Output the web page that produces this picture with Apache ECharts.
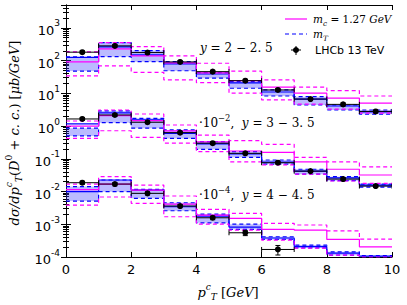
<!DOCTYPE html>
<html><head><meta charset="utf-8">
<script src="https://cdn.jsdelivr.net/npm/echarts@6/dist/echarts.min.js"></script>
<style>html,body{margin:0;padding:0;background:#fff}#c{width:407px;height:305px}</style>
</head><body><div id="c"></div>
<script>
// bin edges (p_T^c in GeV)
const xEdges = [0,1,2,3,4,5,6,7,8,9,10];
const xTicks = [0,2,4,6,8,10];
const yTickExps = [-4,-3,-2,-1,0,1,2,3];

// group 1: y = 2 - 2.5
const g1Data = [181, 282, 176, 91, 46, 24.4, 12.7, 6.7, 4.6, 2.8];
const g1Err  = [18, 28, 18, 9, 4.6, 2.4, 1.3, 0.7, 0.5, 0.3];
const g1MT   = [125, 262, 149, 79, 39, 20.8, 11.0, 6.7, 4.1, 2.7];
const g1MTHi = [130, 355, 202, 93, 43, 22.8, 12.7, 7.9, 4.4, 3.1];
const g1MTLo = [48, 132, 93, 49, 29, 14.3, 8.3, 4.4, 3.1, 2.3];
const g1Mc   = [91, 228, 139, 85, 42, 24.4, 15.4, 10.1, 7.1, 5.0];
const g1McHi = [185, 355, 268, 139, 83, 48, 25.7, 15.4, 12.1, 8.3];
const g1McLo = [34, 69, 44, 25.7, 21.2, 10.1, 6.3, 4.7, 3.3, 2.5];

// group 2: 10^-2 x, y = 3 - 3.5
const g2Data = [1.65, 2.18, 1.31, 0.63, 0.30, 0.147, 0.076, 0.042, 0.024, 0.0147];
const g2Err  = [0.16, 0.2, 0.13, 0.06, 0.03, 0.015, 0.008, 0.004, 0.0025, 0.0015];
const g2MT   = [1.16, 2.52, 1.54, 0.60, 0.284, 0.140, 0.080, 0.042, 0.026, 0.0158];
const g2MTHi = [0.86, 2.9, 1.73, 0.76, 0.333, 0.165, 0.092, 0.048, 0.0284, 0.0169];
const g2MTLo = [0.50, 1.27, 0.86, 0.42, 0.195, 0.111, 0.069, 0.034, 0.0214, 0.0137];
const g2Mc   = [1.0, 2.08, 1.46, 0.71, 0.327, 0.173, 0.158, 0.081, 0.048, 0.032];
const g2McHi = [1.43, 3.1, 2.34, 1.08, 0.53, 0.358, 0.277, 0.111, 0.081, 0.057];
const g2McLo = [0.42, 0.72, 0.45, 0.30, 0.165, 0.081, 0.065, 0.034, 0.021, 0.0178];

// group 3: 10^-4 x, y = 4 - 4.5
const g3Data = [0.0186, 0.0169, 0.0088, 0.0036, 0.00158, 0.00055, 0.00017];
const g3Err  = [0.002, 0.002, 0.001, 0.0004, 0.0002, 0.0001, 0.000055];
const g3MT   = [0.0099, 0.0225, 0.0111, 0.00343, 0.00178, 0.00082, 0.00038, 0.000208, 0.000132, 0.000107];
const g3MTHi = [0.0142, 0.0225, 0.0117, 0.00454, 0.00205, 0.00101, 0.000415, 0.000231, 0.000144, 0.00011];
const g3MTLo = [0.0051, 0.0099, 0.0062, 0.00259, 0.00111, 0.0007, 0.000345, 0.000191, 0.000114, 0.000101];
const g3Mc   = [0.0115, 0.0169, 0.0111, 0.00415, 0.00191, 0.00151, 0.0007, 0.000665, 0.000345, 0.000205];
const g3McHi = [0.0169, 0.0284, 0.0158, 0.0073, 0.00286, 0.00215, 0.00107, 0.00095, 0.00063, 0.000352];
const g3McLo = [0.00386, 0.0068, 0.00436, 0.0017, 0.00101, 0.000665, 0.000329, 0.000187, 0.000114, 0.0001];

const groups = [
  {data:g1Data, err:g1Err, mt:g1MT, mtHi:g1MTHi, mtLo:g1MTLo, mc:g1Mc, mcHi:g1McHi, mcLo:g1McLo},
  {data:g2Data, err:g2Err, mt:g2MT, mtHi:g2MTHi, mtLo:g2MTLo, mc:g2Mc, mcHi:g2McHi, mcLo:g2McLo},
  {data:g3Data, err:g3Err, mt:g3MT, mtHi:g3MTHi, mtLo:g3MTLo, mc:g3Mc, mcHi:g3McHi, mcLo:g3McLo}
];

const MAG = '#ff00ff', BLU = '#0000ff';
function stepData(vals){ return xEdges.map((x,i)=>[x, vals[Math.min(i, vals.length-1)]]); }
function stepLine(vals, color, dashed, width, z){
  return {type:'line', step:'end', data: stepData(vals), symbol:'none', silent:true, z:z,
    lineStyle:{color:color, width:width, type: dashed ? [4,3] : 'solid'}, clip:true};
}
function band(lo, hi){
  return {type:'custom', silent:true, z:1, clip:true,
    data: lo.map((l,i)=>[xEdges[i], xEdges[i+1], l, hi[i]]),
    encode:{x:[0,1], y:[2,3]},
    renderItem:(params, api)=>{
      const p0 = api.coord([api.value(0), api.value(3)]);
      const p1 = api.coord([api.value(1), api.value(2)]);
      return {type:'rect', shape:{x:p0[0], y:p0[1], width:p1[0]-p0[0], height:p1[1]-p0[1]},
        style:{fill:'rgba(60,60,255,0.35)'}};
    }};
}
function errBars(vals, errs){
  return {type:'custom', silent:true, z:20, clip:true,
    data: vals.map((v,i)=>[xEdges[i], xEdges[i+1], v, errs[i]]),
    encode:{x:[0,1], y:2},
    renderItem:(params, api)=>{
      const x0=api.value(0), x1=api.value(1), v=api.value(2), e=api.value(3), xc=(x0+x1)/2;
      const a = api.coord([x0, v]), b = api.coord([x1, v]);
      const top = api.coord([xc, v+e]), bot = api.coord([xc, v-e]);
      const st = {stroke:'#000', lineWidth:1};
      const c = 2.5;
      return {type:'group', children:[
        {type:'line', shape:{x1:a[0], y1:a[1], x2:b[0], y2:b[1]}, style:st},
        {type:'line', shape:{x1:a[0], y1:a[1]-c, x2:a[0], y2:a[1]+c}, style:st},
        {type:'line', shape:{x1:b[0], y1:b[1]-c, x2:b[0], y2:b[1]+c}, style:st},
        {type:'line', shape:{x1:top[0], y1:top[1], x2:bot[0], y2:bot[1]}, style:st},
        {type:'line', shape:{x1:top[0]-c, y1:top[1], x2:top[0]+c, y2:top[1]}, style:st},
        {type:'line', shape:{x1:bot[0]-c, y1:bot[1], x2:bot[0]+c, y2:bot[1]}, style:st},
        {type:'circle', shape:{cx:a[0]+(b[0]-a[0])/2, cy:a[1], r:3}, style:{fill:'#000'}}
      ]};
    }};
}

const series = [];
groups.forEach(g=>{
  series.push(band(g.mtLo, g.mtHi));
  series.push(stepLine(g.mtHi, BLU, true, 1.2, 3));
  series.push(stepLine(g.mtLo, BLU, true, 1.2, 3));
  series.push(stepLine(g.mt, BLU, false, 1.2, 4));
  series.push(stepLine(g.mc, MAG, false, 1.2, 5));
  series.push(stepLine(g.mcHi, MAG, true, 1.2, 5));
  series.push(stepLine(g.mcLo, MAG, true, 1.2, 5));
  series.push(errBars(g.data, g.err));
});

const supRich = {
  b:{fontSize:13, fontFamily:'DejaVu Sans', color:'#000', verticalAlign:'bottom', lineHeight:18},
  s:{fontSize:9, fontFamily:'DejaVu Sans', color:'#000', verticalAlign:'top', lineHeight:18}
};
const mathRich = (fs)=>({
  i:{fontFamily:'DejaVu Serif', fontStyle:'italic', fontSize:fs, color:'#000', lineHeight:fs+6},
  n:{fontFamily:'DejaVu Serif', fontSize:fs, color:'#000', lineHeight:fs+6},
  sup:{fontFamily:'DejaVu Serif', fontStyle:'italic', fontSize:fs*0.7, color:'#000', verticalAlign:'top', lineHeight:fs+6},
  supn:{fontFamily:'DejaVu Serif', fontSize:fs*0.7, color:'#000', verticalAlign:'top', lineHeight:fs+6},
  sub:{fontFamily:'DejaVu Serif', fontStyle:'italic', fontSize:fs*0.7, color:'#000', verticalAlign:'bottom', lineHeight:fs+2},
  sans:{fontFamily:'DejaVu Sans', fontSize:fs, color:'#000', lineHeight:fs+6}
});

const option = {
  animation:false,
  backgroundColor:'#fff',
  grid:{left:66, right:15, top:5, bottom:48, containLabel:false},
  xAxis:[{
    type:'value', min:0, max:10, interval:2,
    axisLine:{lineStyle:{color:'#000', width:1}},
    axisTick:{inside:true, length:5, lineStyle:{color:'#000'}},
    axisLabel:{fontFamily:'DejaVu Sans', fontSize:13, color:'#000', margin:6},
    splitLine:{show:false}
  },{
    type:'value', min:0, max:10, interval:2, position:'top',
    axisLine:{lineStyle:{color:'#000', width:1}},
    axisTick:{inside:true, length:5, lineStyle:{color:'#000'}},
    axisLabel:{show:false}, splitLine:{show:false}
  }],
  yAxis:[{
    type:'log', logBase:10, min:1e-4, max:5000,
    axisLine:{show:true, lineStyle:{color:'#000', width:1}},
    axisTick:{inside:true, length:5, lineStyle:{color:'#000'}},
    minorTick:{show:true, splitNumber:9, length:3, lineStyle:{color:'#000'}},
    axisLabel:{margin:6, showMaxLabel:false,
      formatter:(v)=>{ const e=Math.round(Math.log10(v)); return '{b|10}{s|'+e+'}'; }, rich:supRich},
    splitLine:{show:false}
  },{
    type:'log', logBase:10, min:1e-4, max:5000, position:'right',
    axisLine:{show:true, lineStyle:{color:'#000', width:1}},
    axisTick:{inside:true, length:5, lineStyle:{color:'#000'}},
    minorTick:{show:true, splitNumber:9, length:3, lineStyle:{color:'#000'}},
    axisLabel:{show:false}, splitLine:{show:false}
  }],
  series: series,
  graphic:[
    // legend
    {type:'line', shape:{x1:285, y1:19, x2:307, y2:19}, style:{stroke:MAG, lineWidth:1.2}},
    {type:'text', x:313, y:19, style:{text:'{i|m}{sub|c}{n| = 1.27 }{i|GeV}', rich:mathRich(10.5), verticalAlign:'middle'}},
    {type:'line', shape:{x1:285, y1:34, x2:307, y2:34}, style:{stroke:BLU, lineWidth:1.2, lineDash:[4,3]}},
    {type:'text', x:313, y:34, style:{text:'{i|m}{sub|T}', rich:mathRich(10.5), verticalAlign:'middle'}},
    {type:'line', shape:{x1:291, y1:50, x2:301, y2:50}, style:{stroke:'#000', lineWidth:1}},
    {type:'line', shape:{x1:296, y1:46, x2:296, y2:55}, style:{stroke:'#000', lineWidth:1}},
    {type:'circle', shape:{cx:296, cy:50, r:3}, style:{fill:'#000'}},
    {type:'text', x:315, y:50, style:{text:'LHCb 13 TeV', font:'11px "DejaVu Sans"', fill:'#000', verticalAlign:'middle'}},
    // group annotations
    {type:'text', x:200, y:48, style:{text:'{i|y}{n| = 2 − 2. 5}', rich:mathRich(12), verticalAlign:'middle'}},
    {type:'text', x:199, y:123, style:{text:'{n|·10}{supn|−2}{n|,  }{i|y}{n| = 3 − 3. 5}', rich:mathRich(12), verticalAlign:'middle'}},
    {type:'text', x:199, y:195, style:{text:'{n|·10}{supn|−4}{n|,  }{i|y}{n| = 4 − 4. 5}', rich:mathRich(12), verticalAlign:'middle'}},
    // axis names
    {type:'text', x:228, y:292, style:{text:'{i|p}{sup|c}{sub|T}{n| [}{i|GeV}{n|]}', rich:mathRich(13), align:'center', verticalAlign:'middle'}},
    {type:'text', x:14, y:133, rotation:Math.PI/2,
      style:{text:'{i|dσ/dp}{sup|c}{sub|T}{n|(}{i|D}{supn|0}{n| + }{i|c. c.}{n|) [}{i|μb/GeV}{n|]}', rich:mathRich(13), align:'center', verticalAlign:'middle'}}
  ]
};
const chart = echarts.init(document.getElementById('c'), null, {renderer:'svg'});
chart.setOption(option);
</script>
</body></html>
